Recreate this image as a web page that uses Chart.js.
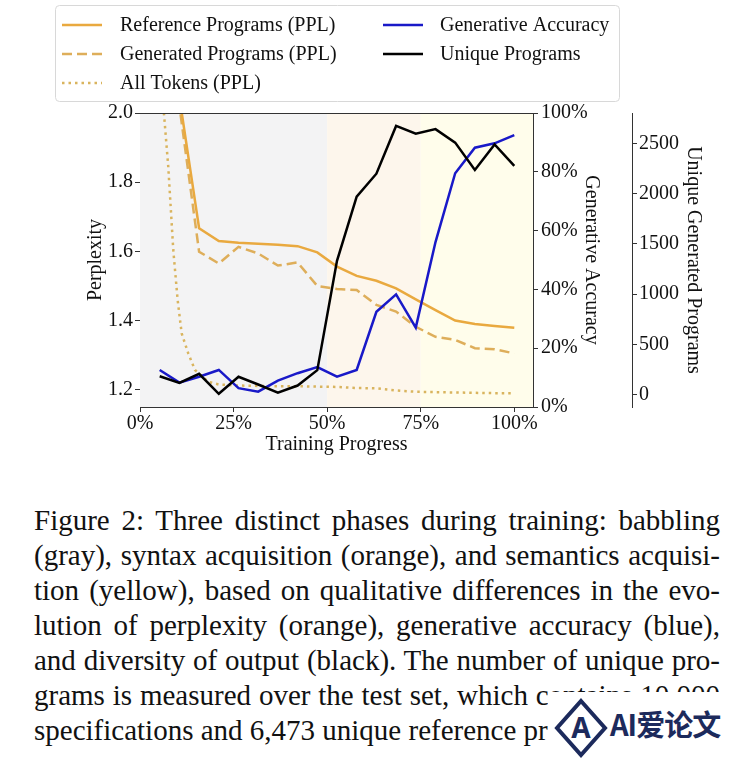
<!DOCTYPE html>
<html><head><meta charset="utf-8">
<script src="https://cdn.jsdelivr.net/npm/chart.js@4.4.0/dist/chart.umd.min.js"></script>
<style>
html,body{margin:0;padding:0;background:#fff;}
body{width:740px;height:760px;position:relative;overflow:hidden;}
#c{position:absolute;left:0;top:0;}
#cap{position:absolute;left:34px;top:503px;width:686px;font-family:"Liberation Serif","Times New Roman",serif;font-size:29px;line-height:35px;color:#111;}
#cap div{text-align:justify;text-align-last:justify;white-space:normal;}
#cap div.last{text-align-last:left;}
#wm{position:absolute;left:548px;top:692px;width:192px;height:68px;background:#fff;}
#wm svg{position:absolute;left:5px;top:6px;}
#wm span{position:absolute;left:62px;top:14px;font-family:"Noto Sans CJK SC","Noto Sans",sans-serif;font-weight:700;font-size:29px;line-height:34px;color:#1c2a5c;letter-spacing:-1px;}
</style></head>
<body>
<canvas id="c" width="740" height="470"></canvas>
<div id="cap">
<div>Figure 2: Three distinct phases during training: babbling</div>
<div>(gray), syntax acquisition (orange), and semantics acquisi-</div>
<div>tion (yellow), based on qualitative differences in the evo-</div>
<div>lution of perplexity (orange), generative accuracy (blue),</div>
<div>and diversity of output (black). The number of unique pro-</div>
<div>grams is measured over the test set, which contains 10,000</div>
<div class="last">specifications and 6,473 unique reference programs.</div>
</div>
<div id="wm">
<svg width="56" height="60" viewBox="0 0 56 60">
<path d="M28 3 L52 30 L28 57 L4 30 Z" fill="none" stroke="#1c2a5c" stroke-width="4" stroke-linejoin="miter"/>
<text x="28" y="40" text-anchor="middle" font-family="Noto Sans, sans-serif" font-weight="700" font-size="28" fill="#1c2a5c">A</text>
</svg>
<span>AI爱论文</span>
</div>
<script>
// ---- data ----
const progress = [5.26, 10.53, 15.79, 21.05, 26.32, 31.58, 36.84, 42.11, 47.37, 52.63, 57.89, 63.16, 68.42, 73.68, 78.95, 84.21, 89.47, 94.74, 100];
const referencePPL = [2.80, 2.045, 1.667, 1.630, 1.625, 1.622, 1.619, 1.615, 1.597, 1.556, 1.529, 1.515, 1.493, 1.461, 1.430, 1.400, 1.390, 1.384, 1.379];
const generatedPPL = [2.60, 2.02, 1.599, 1.565, 1.613, 1.594, 1.559, 1.568, 1.500, 1.491, 1.488, 1.445, 1.426, 1.382, 1.353, 1.344, 1.320, 1.317, 1.305];
const tokenProgress = [5.26, 7.55, 8.89, 10.06, 11.13, 12.89, 14.68, 18.23, 21.05, 26.32, 31.58, 36.84, 42.11, 47.37, 52.63, 57.89, 63.16, 68.42, 73.68, 78.95, 84.21, 89.47, 94.74, 100];
const allTokensPPL = [2.15, 1.845, 1.604, 1.459, 1.363, 1.305, 1.257, 1.223, 1.215, 1.212, 1.211, 1.210, 1.210, 1.209, 1.208, 1.205, 1.204, 1.198, 1.194, 1.193, 1.192, 1.191, 1.190, 1.190];
const generativeAccuracy = [12.6, 8.3, 10.3, 12.6, 6.4, 5.2, 9.0, 11.5, 13.6, 10.3, 12.6, 32.4, 38.3, 27.0, 56.1, 79.5, 88.2, 89.7, 92.5];
const uniquePrograms = [182, 116, 206, 7, 176, 99, 17, 89, 242, 1332, 1971, 2200, 2676, 2598, 2644, 2510, 2237, 2492, 2279];
const xTicks = [0, 25, 50, 75, 100];
const pplTicks = [1.2, 1.4, 1.6, 1.8, 2.0];
const accTicks = [0, 20, 40, 60, 80, 100];
const uniqTicks = [0, 500, 1000, 1500, 2000, 2500];
const phases = [
  {from: null, to: 50, color: '#f3f3f4'},
  {from: 50, to: 75, color: '#fdf6ec'},
  {from: 75, to: null, color: '#fffdeb'}
];
const legendItems = [
  {label: 'Reference Programs (PPL)', color: '#E9A93F', dash: [], col: 0, row: 0},
  {label: 'Generated Programs (PPL)', color: '#DEAE5A', dash: [10, 5], col: 0, row: 1},
  {label: 'All Tokens (PPL)', color: '#D9B45E', dash: [2.5, 4], col: 0, row: 2},
  {label: 'Generative Accuracy', color: '#1919C8', dash: [], col: 1, row: 0},
  {label: 'Unique Programs', color: '#000000', dash: [], col: 1, row: 1}
];

const FONT = '"Liberation Serif", "Times New Roman", serif';
const f20 = {family: FONT, size: 20};
const TXT = '#111';
const AX = '#333';
const pts = (xs, ys) => xs.map((x, i) => ({x: x, y: ys[i]}));

const shadePlugin = {
  id: 'shade',
  beforeDatasetsDraw(chart) {
    const {ctx, chartArea: a, scales: {x}} = chart;
    ctx.save();
    phases.forEach(p => {
      const x0 = p.from === null ? a.left : x.getPixelForValue(p.from);
      const x1 = p.to === null ? a.right : x.getPixelForValue(p.to);
      ctx.fillStyle = p.color;
      ctx.fillRect(x0, a.top, x1 - x0, a.bottom - a.top);
    });
    ctx.restore();
  },
  afterDatasetsDraw(chart) {
    const {ctx, chartArea: a} = chart;
    ctx.save();
    ctx.strokeStyle = AX; ctx.lineWidth = 1;
    ctx.beginPath();
    ctx.moveTo(a.left, a.top + 0.5); ctx.lineTo(a.right, a.top + 0.5);
    ctx.stroke();
    ctx.restore();
  }
};

const legendPlugin = {
  id: 'customLegend',
  afterDraw(chart) {
    const ctx = chart.ctx;
    ctx.save();
    const bx = 55.5, by = 5.5, bw = 564, bh = 96, r = 4;
    ctx.beginPath();
    ctx.moveTo(bx + r, by); ctx.lineTo(bx + bw - r, by); ctx.quadraticCurveTo(bx + bw, by, bx + bw, by + r);
    ctx.lineTo(bx + bw, by + bh - r); ctx.quadraticCurveTo(bx + bw, by + bh, bx + bw - r, by + bh);
    ctx.lineTo(bx + r, by + bh); ctx.quadraticCurveTo(bx, by + bh, bx, by + bh - r);
    ctx.lineTo(bx, by + r); ctx.quadraticCurveTo(bx, by, bx + r, by);
    ctx.fillStyle = 'rgba(255,255,255,0.85)'; ctx.fill();
    ctx.strokeStyle = '#d8d8d8'; ctx.lineWidth = 1; ctx.stroke();
    const colX = [62, 383], textX = [120, 440], rowY = [25, 54, 83];
    ctx.font = '20px ' + FONT; ctx.textBaseline = 'middle'; ctx.textAlign = 'left';
    legendItems.forEach(it => {
      const y = rowY[it.row], x0 = colX[it.col];
      ctx.beginPath(); ctx.setLineDash(it.dash); ctx.strokeStyle = it.color; ctx.lineWidth = 2.5;
      ctx.moveTo(x0, y); ctx.lineTo(x0 + 40, y); ctx.stroke();
      ctx.setLineDash([]);
      ctx.fillStyle = TXT; ctx.fillText(it.label, textX[it.col], y + 1);
    });
    ctx.restore();
  }
};

const tickSetter = arr => s => { s.ticks = arr.map(v => ({value: v})); };
const baseGrid = {drawOnChartArea: false, drawTicks: true, tickLength: 5, color: AX};
const baseBorder = {display: true, color: AX, width: 1};

new Chart(document.getElementById('c'), {
  type: 'line',
  data: {
    datasets: [
      {label: 'Unique Programs', data: pts(progress, uniquePrograms), yAxisID: 'yU', borderColor: '#000000', borderWidth: 2.5, order: 1},
      {label: 'Generative Accuracy', data: pts(progress, generativeAccuracy), yAxisID: 'yA', borderColor: '#1919C8', borderWidth: 2.5, order: 2},
      {label: 'Reference Programs (PPL)', data: pts(progress, referencePPL), yAxisID: 'y', borderColor: '#E9A93F', borderWidth: 2.5, order: 3},
      {label: 'Generated Programs (PPL)', data: pts(progress, generatedPPL), yAxisID: 'y', borderColor: '#DEAE5A', borderDash: [10, 5], borderWidth: 2.5, order: 4},
      {label: 'All Tokens (PPL)', data: pts(tokenProgress, allTokensPPL), yAxisID: 'y', borderColor: '#D9B45E', borderDash: [2.5, 4], borderWidth: 2.5, order: 5}
    ]
  },
  options: {
    responsive: false,
    animation: false,
    devicePixelRatio: 1,
    layout: {padding: {left: 0, right: 20, top: 113, bottom: 0}},
    elements: {point: {radius: 0}, line: {tension: 0, fill: false}},
    plugins: {legend: {display: false}, tooltip: {enabled: false}},
    scales: {
      x: {
        type: 'linear', position: 'bottom', min: 0, max: 105,
        afterBuildTicks: tickSetter(xTicks),
        afterFit: s => { s.height = 63; },
        ticks: {callback: v => v + '%', font: f20, color: TXT, padding: 0, maxRotation: 0, autoSkip: false},
        grid: baseGrid, border: baseBorder,
        title: {display: true, text: 'Training Progress', font: f20, color: TXT, padding: {top: 0, bottom: 13}}
      },
      y: {
        type: 'linear', position: 'left', min: 1.15, max: 2.0,
        afterBuildTicks: tickSetter(pplTicks),
        afterFit: s => { s.width = 140; },
        ticks: {callback: v => v.toFixed(1), font: f20, color: TXT, padding: 2},
        grid: baseGrid, border: baseBorder,
        title: {display: true, text: 'Perplexity', font: f20, color: TXT, padding: {top: 84, bottom: 0}}
      },
      yA: {
        type: 'linear', position: 'right', min: 0, max: 100,
        afterBuildTicks: tickSetter(accTicks),
        afterFit: s => { s.width = 99; },
        ticks: {callback: v => v + '%', font: f20, color: TXT, padding: 3},
        grid: baseGrid, border: baseBorder,
        title: {display: true, text: 'Generative Accuracy', font: f20, color: TXT, padding: {top: 29, bottom: 0}}
      },
      yU: {
        type: 'linear', position: 'right', min: -125, max: 2805,
        afterBuildTicks: tickSetter(uniqTicks),
        afterFit: s => { s.width = 88; },
        ticks: {callback: v => String(v), font: f20, color: TXT, padding: 2},
        grid: baseGrid, border: baseBorder,
        title: {display: true, text: 'Unique Generated Programs', font: f20, color: TXT, padding: {top: 15, bottom: 0}}
      }
    }
  },
  plugins: [shadePlugin, legendPlugin]
});
</script>
</body></html>
